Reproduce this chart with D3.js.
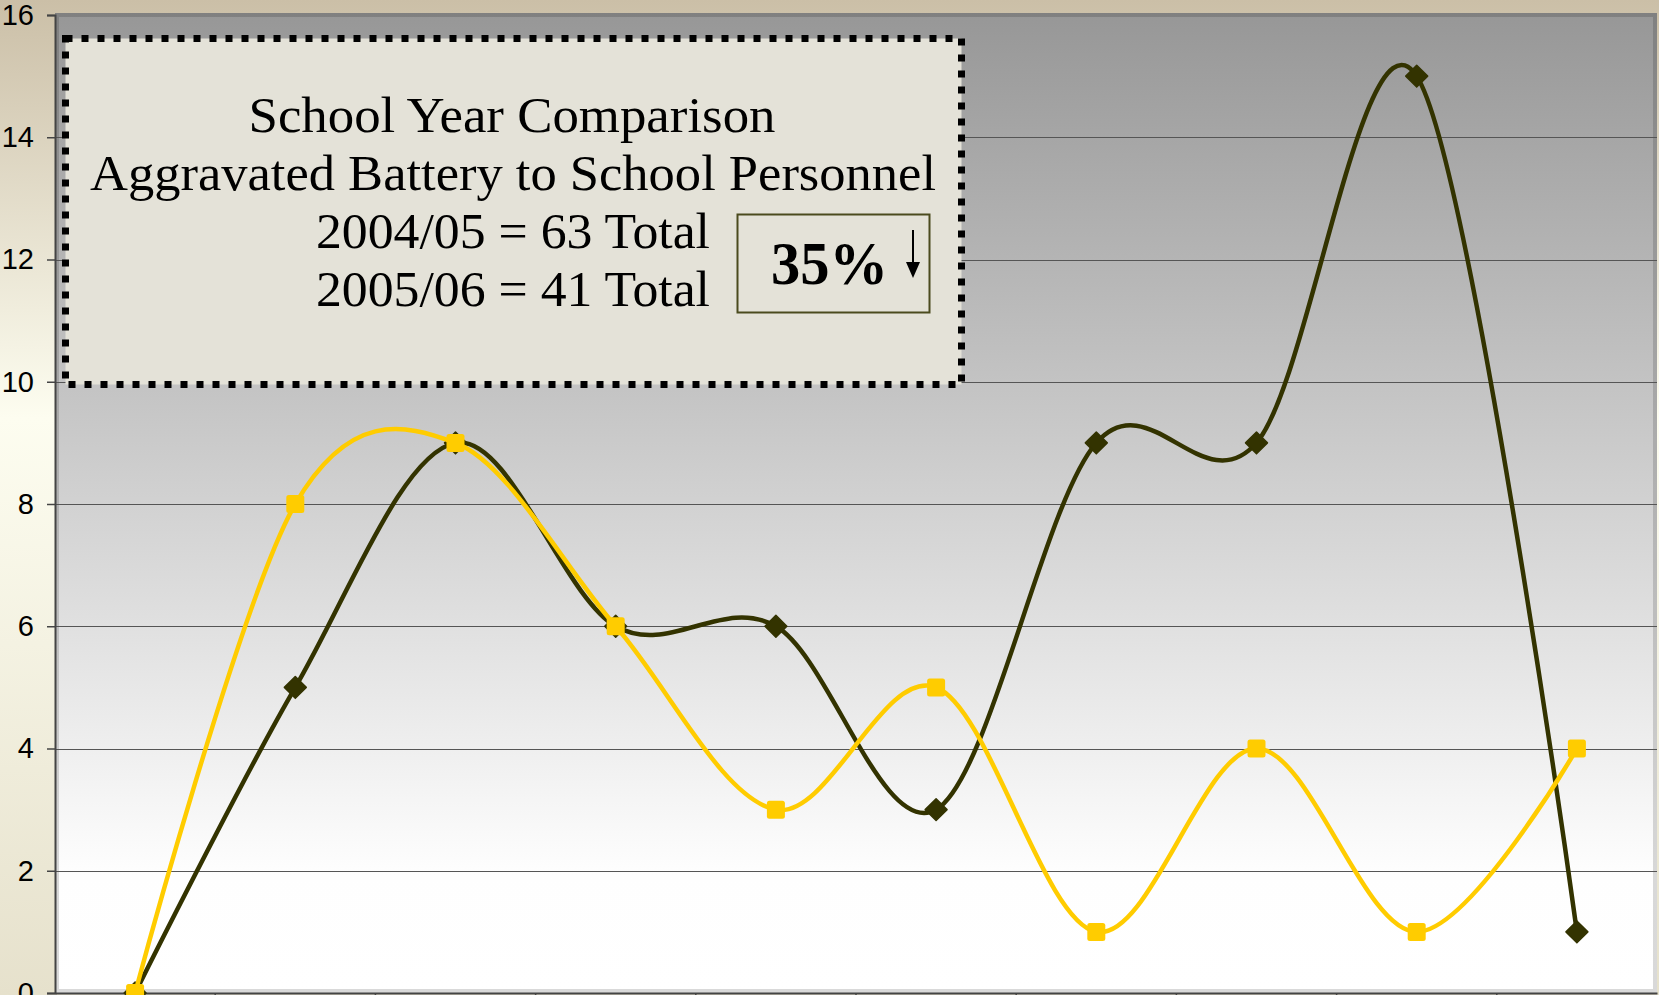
<!DOCTYPE html>
<html>
<head>
<meta charset="utf-8">
<script src="https://cdn.jsdelivr.net/npm/d3@7"></script>
<style>
  body { margin: 0; background: #fff; }
  svg { display: block; }
</style>
</head>
<body>
<div id="chart"></div>
<script>
// monthly counts, school year comparison
var months = ["Aug","Sep","Oct","Nov","Dec","Jan","Feb","Mar","Apr","May"];
var year0405 = [0, 5, 9, 6, 6, 3, 9, 9, 15, 1];
var year0506 = [0, 8, 9, 6, 3, 5, 1, 4, 1, 4];
var yTicks = [0, 2, 4, 6, 8, 10, 12, 14, 16];
var titleLines = ["School Year Comparison", "Aggravated Battery to School Personnel"];
var totalLines = ["2004/05 = 63 Total", "2005/06 = 41 Total"];
var changeLabel = "35%";

var W = 1659, H = 995;
var margin = { top: 15, right: 2, bottom: 2, left: 55 };

var svg = d3.select("#chart")
    .append("svg")
    .attr("width", W)
    .attr("height", H);

var defs = svg.append("defs");

var bgGrad = defs.append("linearGradient")
    .attr("id", "bgGrad").attr("x1", 0).attr("y1", 0).attr("x2", 0).attr("y2", 1);
bgGrad.append("stop").attr("offset", "0").attr("stop-color", "#cbbfa7");
bgGrad.append("stop").attr("offset", "0.42").attr("stop-color", "#fdfdf0");
bgGrad.append("stop").attr("offset", "1").attr("stop-color", "#e6e1cc");

var plotGrad = defs.append("linearGradient")
    .attr("id", "plotGrad").attr("x1", 0).attr("y1", 0).attr("x2", 0).attr("y2", 1);
plotGrad.append("stop").attr("offset", "0").attr("stop-color", "#979797");
plotGrad.append("stop").attr("offset", "0.88").attr("stop-color", "#fefefe");
plotGrad.append("stop").attr("offset", "1").attr("stop-color", "#ffffff");

svg.append("rect")
    .attr("width", W).attr("height", H)
    .style("fill", "url(#bgGrad)");

var x0 = margin.left, x1 = W - margin.right;
var yTop = margin.top, yBot = H - margin.bottom;

var xScale = d3.scaleBand()
    .domain(months)
    .range([x0, x1]);

var yScale = d3.scaleLinear()
    .domain([0, 16])
    .range([yBot, yTop]);

// plot area
svg.append("rect")
    .attr("x", x0).attr("y", yTop - 2)
    .attr("width", x1 - x0).attr("height", yBot - yTop + 2)
    .style("fill", "url(#plotGrad)");

svg.append("rect")
    .attr("x", x0 + 2).attr("y", yTop)
    .attr("width", x1 - x0 - 4).attr("height", yBot - yTop - 2)
    .style("fill", "none")
    .style("stroke", "rgba(0,0,0,0.15)")
    .style("stroke-width", 4);

// gridlines
svg.append("g").selectAll("line")
    .data(yTicks.filter(function(d){ return d > 0 && d < 16; }))
    .enter().append("line")
    .attr("x1", x0).attr("x2", x1)
    .attr("y1", function(d){ return Math.round(yScale(d)) + 0.5; })
    .attr("y2", function(d){ return Math.round(yScale(d)) + 0.5; })
    .style("stroke", "#555")
    .style("stroke-width", 1.2);

// y axis
var yAxis = d3.axisLeft(yScale)
    .tickValues(yTicks)
    .tickSize(8)
    .tickPadding(13)
    .tickFormat(d3.format("d"));

var gy = svg.append("g")
    .attr("transform", "translate(" + x0 + ",0)")
    .call(yAxis);
gy.select(".domain").style("stroke", "#444").style("stroke-width", 2);
gy.selectAll(".tick line").style("stroke", "#444").style("stroke-width", 1.5);
gy.selectAll(".tick text")
    .style("font-family", "Liberation Sans, Arial, sans-serif")
    .style("font-size", "29px")
    .style("fill", "#000");

// x axis, ticks between categories, no labels
var xAxis = d3.axisBottom(xScale).tickSize(0).tickFormat("");
var gx = svg.append("g")
    .attr("transform", "translate(0," + yBot + ")")
    .call(xAxis);
gx.select(".domain").style("stroke", "#444").style("stroke-width", 2);
gx.selectAll(".sep")
    .data(months.slice(1))
    .enter().append("line")
    .attr("class", "sep")
    .attr("x1", function(d){ return xScale(d); })
    .attr("x2", function(d){ return xScale(d); })
    .attr("y1", 0).attr("y2", 8)
    .style("stroke", "#444").style("stroke-width", 1.5);

// text box
var box = { x: 65.5, y: 38.5, w: 896, h: 346 };
svg.append("rect")
    .attr("x", box.x).attr("y", box.y)
    .attr("width", box.w).attr("height", box.h)
    .style("fill", "#e4e2d8")
    .style("stroke", "#000")
    .style("stroke-width", 7)
    .style("stroke-dasharray", "7,9");

var serif = "'Palatino Linotype', 'Book Antiqua', Palatino, 'Liberation Serif', serif";
var titleData = [
    { t: titleLines[0], x: 512, y: 132, len: 527, anchor: "middle" },
    { t: titleLines[1], x: 513, y: 190, len: 846, anchor: "middle" },
    { t: totalLines[0], x: 710, y: 248, len: 394, anchor: "end" },
    { t: totalLines[1], x: 710, y: 306, len: 394, anchor: "end" }
];
svg.append("g").selectAll("text")
    .data(titleData)
    .enter().append("text")
    .attr("x", function(d){ return d.x; })
    .attr("y", function(d){ return d.y; })
    .attr("text-anchor", function(d){ return d.anchor; })
    .attr("textLength", function(d){ return d.len; })
    .attr("lengthAdjust", "spacingAndGlyphs")
    .style("font-family", serif)
    .style("font-size", "50px")
    .style("fill", "#000")
    .text(function(d){ return d.t; });

// percent change box
svg.append("rect")
    .attr("x", 737.5).attr("y", 214.5)
    .attr("width", 192).attr("height", 98)
    .style("fill", "none")
    .style("stroke", "#4b4b1e")
    .style("stroke-width", 2);

svg.append("text")
    .attr("x", 771).attr("y", 284)
    .attr("textLength", 117)
    .attr("lengthAdjust", "spacingAndGlyphs")
    .style("font-family", serif)
    .style("font-size", "62px")
    .style("font-weight", "bold")
    .style("fill", "#000")
    .text(changeLabel);

// down arrow
svg.append("line")
    .attr("x1", 913).attr("x2", 913)
    .attr("y1", 230).attr("y2", 266)
    .style("stroke", "#000").style("stroke-width", 2);
svg.append("path")
    .attr("d", "M906,262 L920,262 L913,278 Z")
    .style("fill", "#000");

// series
var line = d3.line()
    .x(function(d, i){ return xScale(months[i]) + xScale.bandwidth() / 2; })
    .y(function(d){ return yScale(d); })
    .curve(d3.curveCardinal.tension(0));

var dark = "#333300", gold = "#ffcc00";

svg.append("path")
    .datum(year0405)
    .attr("d", line)
    .style("fill", "none")
    .style("stroke", dark)
    .style("stroke-width", 4.5)
    .style("stroke-linejoin", "round");

svg.append("g").selectAll("path")
    .data(year0405)
    .enter().append("path")
    .attr("d", d3.symbol().type(d3.symbolSquare).size(240))
    .attr("transform", function(d, i){
        return "translate(" + (xScale(months[i]) + xScale.bandwidth() / 2) + "," + yScale(d) + ") rotate(45)";
    })
    .style("fill", dark)
    .style("stroke", dark)
    .style("stroke-width", 1.5)
    .style("stroke-linejoin", "round");

svg.append("path")
    .datum(year0506)
    .attr("d", line)
    .style("fill", "none")
    .style("stroke", gold)
    .style("stroke-width", 4.5)
    .style("stroke-linejoin", "round");

svg.append("g").selectAll("rect")
    .data(year0506)
    .enter().append("rect")
    .attr("x", function(d, i){ return xScale(months[i]) + xScale.bandwidth() / 2 - 9; })
    .attr("y", function(d){ return yScale(d) - 9; })
    .attr("width", 18).attr("height", 18)
    .attr("rx", 2.5).attr("ry", 2.5)
    .style("fill", gold);
</script>
</body>
</html>
